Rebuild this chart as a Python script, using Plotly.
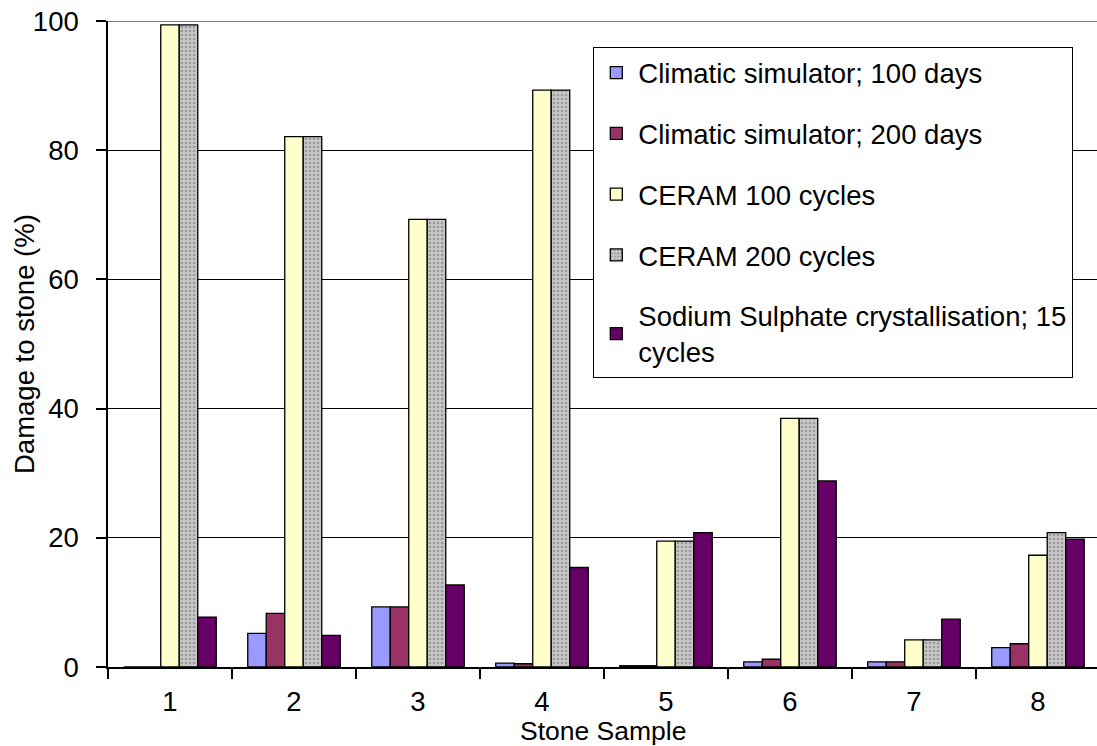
import plotly.graph_objects as go

categories = ["1", "2", "3", "4", "5", "6", "7", "8"]
series_names = [
    "Climatic simulator; 100 days",
    "Climatic simulator; 200 days",
    "CERAM 100 cycles",
    "CERAM 200 cycles",
    "Sodium Sulphate crystallisation; 15<br>cycles",
]
clim_100 = [0.0, 5.2, 9.3, 0.6, 0.2, 0.8, 0.8, 3.0]
clim_200 = [0.0, 8.3, 9.3, 0.5, 0.2, 1.2, 0.8, 3.6]
ceram_100 = [99.4, 82.1, 69.3, 89.3, 19.5, 38.5, 4.2, 17.3]
ceram_200 = [99.4, 82.1, 69.3, 89.3, 19.5, 38.5, 4.2, 20.8]
sodium_15 = [7.7, 4.9, 12.7, 15.4, 20.8, 28.8, 7.4, 19.8]
y_ticks = [0, 20, 40, 60, 80, 100]

series_values = [clim_100, clim_200, ceram_100, ceram_200, sodium_15]
colors = ["#9999FF", "#993366", "#FFFFCC", "#C0C0C0", "#660066"]

FONT = "Liberation Sans, Arial, sans-serif"
FS = 27.5

fig = go.Figure()
for i, (name, vals, col) in enumerate(zip(series_names, series_values, colors)):
    marker = dict(color=col, line=dict(color="black", width=1.3))
    if i == 3:
        marker["pattern"] = dict(shape=".", fgcolor="#6a6a6a", bgcolor="#c8c8c8",
                                 size=4, solidity=0.35, fillmode="overlay")
    fig.add_trace(go.Bar(x=categories, y=vals, name=name, marker=marker,
                         legendgroup=f"g{i}"))

fig.add_shape(type="line", xref="paper", yref="y", x0=0, x1=1, y0=100, y1=100,
              line=dict(color="#808080", width=2), layer="above")

fig.add_annotation(text="Stone Sample", xref="paper", yref="paper",
                   x=0.5, y=-(731 - 667) / 646, xanchor="center", yanchor="middle",
                   showarrow=False, font=dict(size=26.5, family=FONT, color="black"))
fig.add_annotation(text="Damage to stone (%)", xref="paper", yref="paper",
                   x=(24 - 108) / 989, y=0.5, xanchor="center", yanchor="middle",
                   textangle=-90, showarrow=False,
                   font=dict(size=FS, family=FONT, color="black"))

fig.update_layout(
    width=1097, height=746,
    margin=dict(l=108, r=0, t=21, b=79, autoexpand=False),
    paper_bgcolor="white", plot_bgcolor="white",
    barmode="group", bargap=0.254, bargroupgap=0,
    font=dict(family=FONT, size=FS, color="black"),
    showlegend=True,
    legend=dict(x=(593 - 108) / 989, y=(667 - 47) / 646, xanchor="left", yanchor="top",
                bgcolor="white", bordercolor="black", borderwidth=1.3,
                font=dict(size=FS, family=FONT, color="black"),
                tracegroupgap=22, itemwidth=34,
                traceorder="grouped"),
    xaxis=dict(
        type="category", range=[-0.5, 7.476], automargin=False,
        showline=True, linecolor="black", linewidth=1.5,
        ticks="outside", tickson="boundaries", ticklen=10, tickcolor="black", tickwidth=1.5,
        showgrid=False, zeroline=False,
        ticklabelstandoff=9, ticklabeloverflow="allow",
        tickfont=dict(size=FS),
    ),
    yaxis=dict(
        range=[0, 100], tickvals=y_ticks, automargin=False,
        showline=True, linecolor="black", linewidth=1.5,
        ticks="outside", ticklen=10, tickcolor="black", tickwidth=1.5,
        showgrid=True, gridcolor="black", gridwidth=1.3, zeroline=False,
        ticklabelstandoff=12, ticklabeloverflow="allow",
        tickfont=dict(size=FS),
    ),
)

fig.write_html("out.html", config={"displayModeBar": False},
               post_script="document.body.style.margin='0';document.body.style.overflow='hidden';")
